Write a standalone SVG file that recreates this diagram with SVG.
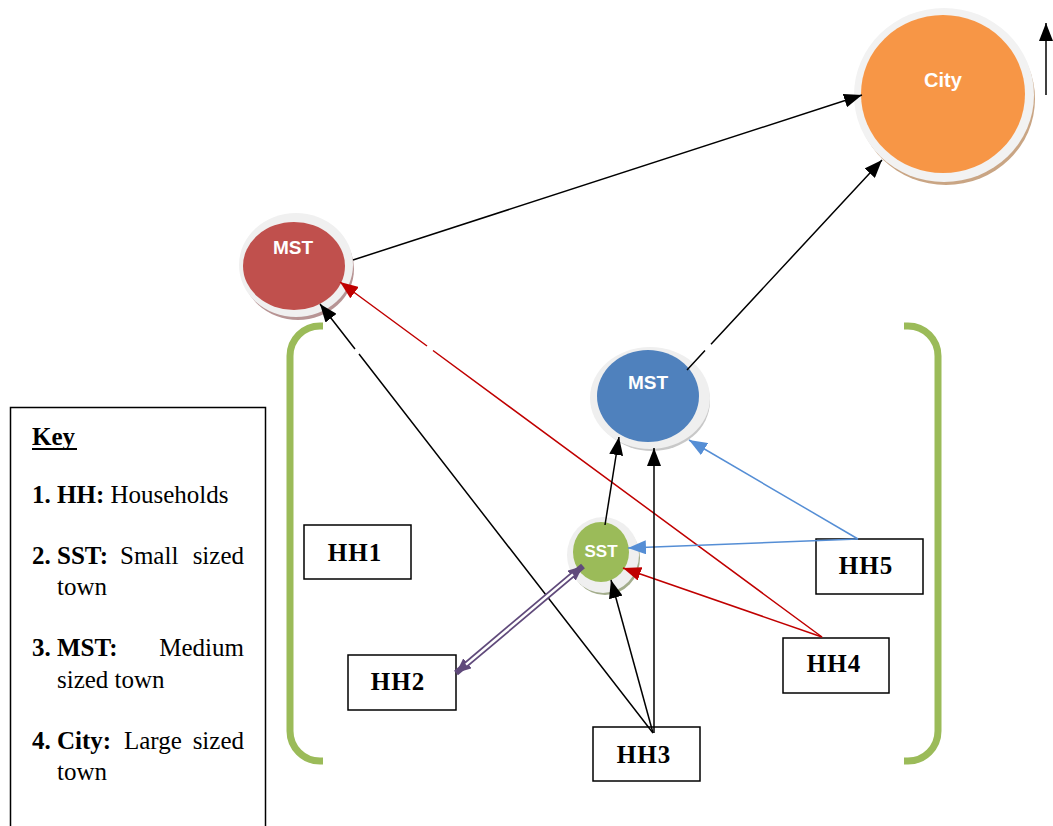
<svg xmlns="http://www.w3.org/2000/svg" width="1053" height="826" viewBox="0 0 1053 826">
<style>
.box{fill:#fff;stroke:#000;stroke-width:1.5}
.hh{font-family:"Liberation Serif",serif;font-weight:bold;font-size:25px;text-anchor:middle;letter-spacing:1px}
.nt{font-family:"Liberation Sans",sans-serif;font-weight:bold;fill:#fff;text-anchor:middle}
.k{font-family:"Liberation Serif",serif;font-size:25px;fill:#000}
.kb{font-weight:bold}
.blk{stroke:#000;stroke-width:1.5;fill:none}
.red{stroke:#C00000;stroke-width:1.5;fill:none}
.blu{stroke:#558ED5;stroke-width:1.5;fill:none}
.brk{stroke:#9BBB59;stroke-width:7;fill:none}
</style>
<defs>
<marker id="ab" viewBox="0 0 18 14" refX="18" refY="7" markerWidth="18" markerHeight="14" markerUnits="userSpaceOnUse" orient="auto"><path d="M0,0 L18,7 L0,14 Z" fill="#000"/></marker>
<marker id="ar" viewBox="0 0 18 14" refX="18" refY="7" markerWidth="18" markerHeight="14" markerUnits="userSpaceOnUse" orient="auto"><path d="M0,0 L18,7 L0,14 Z" fill="#C00000"/></marker>
<marker id="au" viewBox="0 0 18 14" refX="18" refY="7" markerWidth="18" markerHeight="14" markerUnits="userSpaceOnUse" orient="auto"><path d="M0,0 L18,7 L0,14 Z" fill="#558ED5"/></marker>
<marker id="ap" viewBox="0 0 15 13" refX="15" refY="6.5" markerWidth="15" markerHeight="13" markerUnits="userSpaceOnUse" orient="auto-start-reverse"><path d="M0,0 L15,6.5 L0,13 Z" fill="#604A7B"/></marker>
<marker id="aup" viewBox="0 0 18 14" refX="18" refY="7" markerWidth="18" markerHeight="14" markerUnits="userSpaceOnUse" orient="auto"><path d="M0,0 L18,7 L0,14 Z" fill="#000"/></marker>
</defs>

<g id="brackets">
<path class="brk" d="M323,326 L320,326 A30,30 0 0 0 290,356 L290,731 A30,30 0 0 0 320,761 L323,761"/>
<path class="brk" d="M904,326 L908,326 A30,30 0 0 1 938,356 L938,731 A30,30 0 0 1 908,761 L904,761"/>
</g>

<g id="key">
<rect x="10.5" y="407.5" width="255" height="430" fill="#fff" stroke="#000" stroke-width="1.5"/>
<text class="k kb" x="32" y="445">Key</text>
<line x1="32" y1="449" x2="77" y2="449" stroke="#000" stroke-width="2"/>
<text class="k kb" x="32" y="503">1.</text><text class="k" x="57" y="503"><tspan class="kb">HH:</tspan> Households</text>
<text class="k kb" x="32" y="564">2.</text><text class="k kb" x="57" y="564">SST:</text><text class="k" x="120" y="564">Small</text><text class="k" x="244" y="564" text-anchor="end">sized</text>
<text class="k" x="57" y="595">town</text>
<text class="k kb" x="32" y="656">3.</text><text class="k kb" x="57" y="656">MST:</text><text class="k" x="244" y="656" text-anchor="end">Medium</text>
<text class="k" x="57" y="688">sized town</text>
<text class="k kb" x="32" y="749">4.</text><text class="k kb" x="57" y="749">City:</text><text class="k" x="124" y="749">Large</text><text class="k" x="244" y="749" text-anchor="end">sized</text>
<text class="k" x="57" y="780">town</text>
</g>

<g id="city">
<ellipse cx="946" cy="99" rx="89" ry="86" fill="#C9A584"/>
<ellipse cx="944" cy="95" rx="90" ry="87" fill="#F2F2F2"/>
<ellipse cx="943" cy="94" rx="82" ry="79" fill="#F79646"/>
<text class="nt" x="943" y="87" font-size="20">City</text>
</g>

<g id="mst-red">
<ellipse cx="298" cy="269" rx="56" ry="51" fill="#B79494"/>
<ellipse cx="296" cy="265" rx="57" ry="52" fill="#F0F0F0"/>
<ellipse cx="294" cy="266" rx="51" ry="44" fill="#C0504D"/>
<text class="nt" x="293" y="254" font-size="19">MST</text>
</g>

<g id="mst-blue">
<ellipse cx="652" cy="401" rx="58" ry="50" fill="#C8C8C8"/>
<ellipse cx="650" cy="398" rx="60" ry="51" fill="#EFEFEF"/>
<ellipse cx="648" cy="396" rx="51" ry="46" fill="#4F81BD"/>
<text class="nt" x="648" y="389" font-size="19">MST</text>
</g>

<g id="sst">
<ellipse cx="605" cy="558" rx="35" ry="37" fill="#A3AD8C"/>
<ellipse cx="603" cy="555" rx="36" ry="38" fill="#EFEFEF"/>
<ellipse cx="601" cy="552" rx="28" ry="30" fill="#9BBB59"/>
<text class="nt" x="601" y="557" font-size="17">SST</text>
</g>

<g id="hh1"><rect class="box" x="304" y="525" width="107" height="54"/><text class="hh" x="355" y="561">HH1</text></g>
<g id="hh2"><rect class="box" x="348" y="655" width="108" height="55"/><text class="hh" x="398" y="690">HH2</text></g>
<g id="hh3"><rect class="box" x="593" y="727" width="107" height="54"/><text class="hh" x="644" y="763">HH3</text></g>
<g id="hh4"><rect class="box" x="783" y="638" width="106" height="55"/><text class="hh" x="834" y="672">HH4</text></g>
<g id="hh5"><rect class="box" x="816" y="539" width="107" height="55"/><text class="hh" x="866" y="574">HH5</text></g>

<g id="connectors">
<line class="blk" x1="353" y1="260" x2="862" y2="95" marker-end="url(#ab)"/>
<path class="blk" d="M687,370 L705,350.6 M711,344.2 L882,160" marker-end="url(#ab)"/>
<path class="blk" d="M653,733 L359,354 M355,349 L320,304" marker-end="url(#ab)"/>
<path class="red" d="M822,637 L433,350.5 M427,346 L340,282" marker-end="url(#ar)"/>
<line class="red" x1="822" y1="637" x2="623" y2="568" marker-end="url(#ar)"/>
<line class="blu" x1="858" y1="539" x2="628" y2="548" marker-end="url(#au)"/>
<line class="blu" x1="858" y1="539" x2="689" y2="440" marker-end="url(#au)"/>
<line class="blk" x1="605" y1="525" x2="619" y2="437" marker-end="url(#ab)"/>
<line class="blk" x1="654" y1="733" x2="654" y2="448" marker-end="url(#ab)"/>
<line class="blk" x1="653" y1="733" x2="611" y2="580" marker-end="url(#ab)"/>
<line x1="456" y1="673" x2="583" y2="566" stroke="#604A7B" stroke-width="6" marker-start="url(#ap)" marker-end="url(#ap)"/>
<line x1="466" y1="664.6" x2="573" y2="574.4" stroke="#fff" stroke-width="2.5"/>
<line class="blk" x1="1046" y1="95" x2="1046" y2="23" stroke-width="2" marker-end="url(#aup)"/>
</g>
</svg>
